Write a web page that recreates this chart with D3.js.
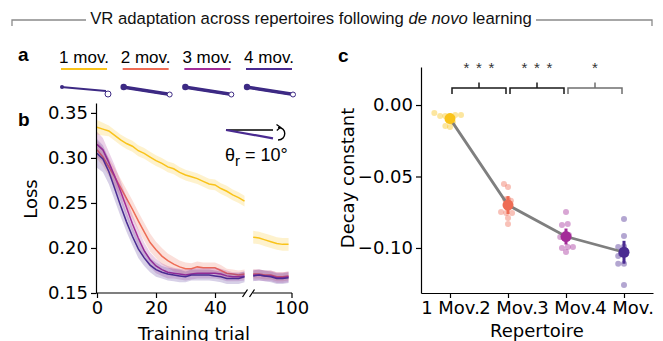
<!DOCTYPE html>
<html>
<head>
<meta charset="utf-8">
<script src="https://cdn.jsdelivr.net/npm/d3@7"></script>
<style>
  body { margin: 0; background: #fff; }
  svg { display: block; }
</style>
</head>
<body>
<div id="chart"></div>
<script>
// ---- data ----
const seriesNames = ['1 mov.', '2 mov.', '3 mov.', '4 mov.'];
const seriesColors = ['#f9c31a', '#ee6c55', '#a32c98', '#4a2b91'];

// training trials shown before / after the axis break
const trialsA = [0, 2, 4, 6, 8, 10, 12, 14, 16, 18, 20, 22, 24, 26, 28, 30, 32, 34, 36, 38, 40, 42, 44, 46, 48, 50];
const trialsB = [87, 89, 91, 93, 95, 97, 99];

const loss1A = [0.334, 0.332, 0.330, 0.325, 0.320, 0.316, 0.313, 0.308, 0.305, 0.301, 0.297, 0.294, 0.290,
                0.288, 0.284, 0.281, 0.279, 0.277, 0.274, 0.271, 0.270, 0.266, 0.263, 0.259, 0.256, 0.252];
const loss2A = [0.309, 0.301, 0.290, 0.279, 0.267, 0.255, 0.243, 0.230, 0.218, 0.206, 0.198, 0.191, 0.186,
                0.182, 0.179, 0.177, 0.177, 0.179, 0.178, 0.178, 0.178, 0.175, 0.172, 0.171, 0.170, 0.171];
const loss3A = [0.315, 0.309, 0.295, 0.280, 0.263, 0.245, 0.227, 0.211, 0.197, 0.187, 0.180, 0.176, 0.173,
                0.172, 0.171, 0.170, 0.171, 0.172, 0.172, 0.172, 0.172, 0.171, 0.169, 0.168, 0.168, 0.169];
const loss4A = [0.305, 0.299, 0.285, 0.266, 0.247, 0.229, 0.213, 0.199, 0.189, 0.181, 0.176, 0.173, 0.171,
                0.170, 0.169, 0.168, 0.170, 0.170, 0.170, 0.170, 0.169, 0.168, 0.166, 0.166, 0.166, 0.168];

const sem1A = [0.008, 0.007, 0.006, 0.006, 0.006, 0.006, 0.006, 0.006, 0.006, 0.006, 0.006, 0.006, 0.006,
               0.006, 0.006, 0.006, 0.006, 0.006, 0.006, 0.006, 0.006, 0.006, 0.006, 0.006, 0.006, 0.006];
const sem2A = [0.010, 0.010, 0.010, 0.010, 0.010, 0.010, 0.010, 0.010, 0.010, 0.010, 0.009, 0.009, 0.008,
               0.008, 0.007, 0.007, 0.006, 0.006, 0.006, 0.006, 0.006, 0.006, 0.005, 0.005, 0.005, 0.005];
const sem3A = [0.014, 0.013, 0.012, 0.012, 0.011, 0.011, 0.010, 0.010, 0.009, 0.008, 0.008, 0.007, 0.007,
               0.006, 0.006, 0.006, 0.006, 0.006, 0.006, 0.006, 0.006, 0.006, 0.006, 0.005, 0.005, 0.005];
const sem4A = [0.016, 0.015, 0.014, 0.013, 0.012, 0.011, 0.010, 0.010, 0.009, 0.008, 0.008, 0.007, 0.007,
               0.007, 0.007, 0.006, 0.006, 0.006, 0.006, 0.006, 0.006, 0.006, 0.006, 0.006, 0.006, 0.006];

const loss1B = [0.212, 0.211, 0.209, 0.207, 0.205, 0.204, 0.204];
const loss2B = [0.171, 0.171, 0.170, 0.170, 0.168, 0.168, 0.169];
const loss3B = [0.170, 0.170, 0.169, 0.169, 0.167, 0.167, 0.168];
const loss4B = [0.169, 0.170, 0.169, 0.168, 0.166, 0.166, 0.167];
const sem1B = [0.007, 0.007, 0.007, 0.007, 0.007, 0.007, 0.007];
const sem2B = [0.005, 0.005, 0.005, 0.005, 0.005, 0.005, 0.005];
const sem3B = [0.006, 0.006, 0.006, 0.006, 0.006, 0.006, 0.006];
const sem4B = [0.006, 0.006, 0.006, 0.006, 0.006, 0.006, 0.006];

const lossTicksY = [0.15, 0.20, 0.25, 0.30, 0.35];
const trialTicksA = [0, 20, 40];
const trialTicksB = [100];

// panel c: decay constants
const repertoires = ['1 Mov.', '2 Mov.', '3 Mov.', '4 Mov.'];
const decayMean = [-0.0095, -0.070, -0.092, -0.103];
const decayErr = [0.0015, 0.0063, 0.0056, 0.008];
const decayPoints = [
  [-0.0056, -0.0077, -0.0077, -0.0077, -0.0070, -0.0070, -0.0147, -0.0154, -0.0100, -0.0120],
  [-0.0552, -0.0573, -0.0748, -0.0755, -0.0755, -0.0790, -0.0832, -0.0660, -0.0670, -0.0660],
  [-0.0748, -0.0839, -0.0832, -0.0923, -0.1000, -0.0993, -0.1028, -0.0993, -0.0920, -0.0910],
  [-0.0797, -0.0916, -0.0993, -0.1056, -0.1110, -0.1110, -0.1259, -0.1020, -0.0990, -0.1040]
];
// horizontal jitter of each point, as a fraction of the category step
const decayJitter = [
  [-0.27, -0.17, -0.08, 0.0, 0.09, 0.19, -0.08, 0.0, 0.0, 0.05],
  [-0.07, 0.0, -0.12, -0.03, 0.07, 0.0, 0.0, -0.05, 0.05, 0.0],
  [0.0, -0.07, 0.03, -0.10, -0.07, 0.03, 0.0, 0.12, -0.03, 0.05],
  [0.0, 0.0, -0.10, -0.10, -0.10, 0.0, 0.0, 0.0, 0.0, -0.05]
];
const decayTicksY = [0.0, -0.05, -0.10];
const sigPairs = [[0, 1], [1, 2], [2, 3]];
const sigLabels = [3, 3, 1]; // number of stars

// ---- drawing ----
const W = 663, H = 341;
const sans = 'Liberation Sans, Arial, sans-serif';
const mpl = 'DejaVu Sans, sans-serif';

const svg = d3.select('#chart').append('svg')
  .attr('width', W).attr('height', H);

// title with bracket
svg.append('path')
  .attr('d', 'M12,26V20H86 M536,20H652V26')
  .attr('fill', 'none').attr('stroke', '#8a8a8a').attr('stroke-width', 1.3);
const title = svg.append('text')
  .attr('x', 311).attr('y', 24)
  .attr('text-anchor', 'middle')
  .style('font-family', sans).style('font-size', '16.7px').attr('fill', '#111');
title.append('tspan').text('VR adaptation across repertoires following ');
title.append('tspan').style('font-style', 'italic').text('de novo');
title.append('tspan').text(' learning');

// panel letters
[['a', 18, 61], ['b', 18, 126], ['c', 338, 62]].forEach(([t, x, y]) => {
  svg.append('text').attr('x', x).attr('y', y).text(t)
    .style('font-family', sans).style('font-weight', 'bold').style('font-size', '19px');
});

// ---- panel a: legend + arm sketches ----
const legendX = d3.scalePoint().domain(seriesNames).range([84, 269]);
const leg = svg.append('g');
seriesNames.forEach((name, i) => {
  const cx = legendX(name);
  leg.append('text').attr('x', cx).attr('y', 63).attr('text-anchor', 'middle')
    .style('font-family', sans).style('font-size', '17px').text(name);
  leg.append('line').attr('x1', cx - 23).attr('x2', cx + 23).attr('y1', 69).attr('y2', 69)
    .attr('stroke', seriesColors[i]).attr('stroke-width', 2);
  // reach trajectories
  const armColor = '#3d2a84';
  const x0 = cx - 23, y0 = 87;
  const strokes = i === 0 ? [[0, 0]] : [[0, -0.8], [0, 0], [0, 0.8], [1, 0.4]];
  strokes.forEach(([dx, dy]) => {
    leg.append('line').attr('x1', x0 + dx).attr('y1', y0 + dy)
      .attr('x2', x0 + 45).attr('y2', y0 + (i === 0 ? 4 : 7) + dy)
      .attr('stroke', armColor).attr('stroke-width', i === 0 ? 2 : 1.8);
  });
  leg.append('circle').attr('cx', x0 + 1).attr('cy', y0)
    .attr('r', i === 0 ? 2 : 3.2).attr('fill', armColor);
  leg.append('circle').attr('cx', x0 + 47).attr('cy', y0 + (i === 0 ? 7 : 7.5))
    .attr('r', i === 0 ? 3 : 2.5).attr('fill', '#fff').attr('stroke', armColor).attr('stroke-width', 1);
});

// ---- panel b: loss curves with a broken x axis ----
const yB = d3.scaleLinear().domain([0.15, 0.361]).range([293, 103]);
const xA = d3.scaleLinear().domain([0, 50]).range([97, 244.5]);
const xBr = d3.scaleLinear().domain([87, 100]).range([253.2, 291.5]);

const lossA = [loss1A, loss2A, loss3A, loss4A];
const lossB = [loss1B, loss2B, loss3B, loss4B];
const semA = [sem1A, sem2A, sem3A, sem4A];
const semB = [sem1B, sem2B, sem3B, sem4B];

const gB = svg.append('g');
function drawSeg(trials, mean, sem, x, color) {
  const pts = trials.map((t, i) => ({ t, m: mean[i], s: sem[i] }));
  gB.append('path').datum(pts)
    .attr('d', d3.area().x(d => x(d.t)).y0(d => yB(d.m - d.s)).y1(d => yB(d.m + d.s)))
    .attr('fill', color).attr('fill-opacity', 0.22);
  gB.append('path').datum(pts)
    .attr('d', d3.line().x(d => x(d.t)).y(d => yB(d.m)))
    .attr('fill', 'none').attr('stroke', color).attr('stroke-width', 1.5);
}
seriesNames.forEach((n, i) => {
  drawSeg(trialsA, lossA[i], semA[i], xA, seriesColors[i]);
  drawSeg(trialsB, lossB[i], semB[i], xBr, seriesColors[i]);
});

// y axis
const yAxisB = gB.append('g').attr('transform', 'translate(96,0)')
  .call(d3.axisLeft(yB).tickValues(lossTicksY).tickFormat(d3.format('.2f'))
    .tickSize(5).tickPadding(3).tickSizeOuter(0));
// x axes (two pieces)
const xAxisA = gB.append('g').attr('transform', 'translate(0,293)')
  .call(d3.axisBottom(xA).tickValues(trialTicksA).tickSize(5).tickPadding(3).tickSizeOuter(0));
const xAxisB = gB.append('g').attr('transform', 'translate(0,293)')
  .call(d3.axisBottom(xBr).tickValues(trialTicksB).tickSize(5).tickPadding(3).tickSizeOuter(0));
xAxisA.select('.domain').attr('d', 'M96,0H245');
xAxisB.select('.domain').attr('d', 'M253,0H292');
// break marks
gB.append('path').attr('d', 'M242.5,297L247.5,289.5 M249.5,297L254.5,289.5')
  .attr('stroke', '#000').attr('stroke-width', 1.3);

[yAxisB, xAxisA, xAxisB].forEach(a => {
  a.selectAll('text').style('font-family', mpl).style('font-size', '18px').attr('fill', '#000');
  a.selectAll('line, path').attr('stroke', '#000').attr('stroke-width', 1.2);
});

svg.append('text').attr('transform', 'translate(37,199) rotate(-90)')
  .attr('text-anchor', 'middle').style('font-family', mpl).style('font-size', '18px').text('Loss');
svg.append('text').attr('x', 194).attr('y', 340).attr('text-anchor', 'middle')
  .style('font-family', mpl).style('font-size', '18px').text('Training trial');

// rotation sketch
const rot = svg.append('g');
rot.append('line').attr('x1', 226).attr('y1', 130).attr('x2', 273).attr('y2', 130)
  .attr('stroke', '#000').attr('stroke-width', 1.4);
rot.append('line').attr('x1', 226).attr('y1', 130).attr('x2', 273).attr('y2', 138.3)
  .attr('stroke', '#4a2b91').attr('stroke-width', 2.2);
rot.append('path').attr('d', 'M278,127.5 C287,127 287,140 278,140')
  .attr('fill', 'none').attr('stroke', '#000').attr('stroke-width', 1.4);
rot.append('path').attr('d', 'M276.5,124.5 L280.5,127.3 L276.8,130.5')
  .attr('fill', 'none').attr('stroke', '#000').attr('stroke-width', 1.3);
const th = rot.append('text').attr('x', 225).attr('y', 161)
  .style('font-family', sans).style('font-size', '18px');
th.append('tspan').text('θ');
th.append('tspan').attr('dy', 5).style('font-size', '15px').text('r');
th.append('tspan').attr('dy', -5).text(' = 10°');

// ---- panel c: decay constants ----
const xC = d3.scalePoint().domain(repertoires).range([421, 653]).padding(0.5);
const yC = d3.scaleLinear().domain([-0.1315, 0.0266]).range([293, 67]);
const step = xC.step();
const gC = svg.append('g');

decayPoints.forEach((vals, i) => {
  gC.selectAll(null).data(vals).enter().append('circle')
    .attr('cx', (d, j) => xC(repertoires[i]) + decayJitter[i][j] * step)
    .attr('cy', d => yC(d))
    .attr('r', 3)
    .attr('fill', seriesColors[i]).attr('fill-opacity', 0.42);
});

gC.append('path').datum(decayMean)
  .attr('d', d3.line().x((d, i) => xC(repertoires[i])).y(d => yC(d)))
  .attr('fill', 'none').attr('stroke', '#7f7f7f').attr('stroke-width', 2.8);

decayMean.forEach((m, i) => {
  gC.append('line').attr('x1', xC(repertoires[i])).attr('x2', xC(repertoires[i]))
    .attr('y1', yC(m - decayErr[i])).attr('y2', yC(m + decayErr[i]))
    .attr('stroke', seriesColors[i]).attr('stroke-width', 3);
  gC.append('circle').attr('cx', xC(repertoires[i])).attr('cy', yC(m))
    .attr('r', 5.5).attr('fill', seriesColors[i]);
});

const yAxisC = gC.append('g').attr('transform', 'translate(421,0)')
  .call(d3.axisLeft(yC).tickValues(decayTicksY).tickFormat(d3.format('.2f'))
    .tickSize(5).tickPadding(3).tickSizeOuter(0));
const xAxisC = gC.append('g').attr('transform', 'translate(0,293)')
  .call(d3.axisBottom(xC).tickSize(5).tickPadding(3).tickSizeOuter(0));
[yAxisC, xAxisC].forEach(a => {
  a.selectAll('text').style('font-family', mpl).style('font-size', '18px').attr('fill', '#000');
  a.selectAll('line, path').attr('stroke', '#000').attr('stroke-width', 1.2);
});

svg.append('text').attr('transform', 'translate(354,178) rotate(-90)')
  .attr('text-anchor', 'middle').style('font-family', mpl).style('font-size', '18px').text('Decay constant');
svg.append('text').attr('x', 537).attr('y', 337).attr('text-anchor', 'middle')
  .style('font-family', mpl).style('font-size', '18px').text('Repertoire');

// significance brackets
sigPairs.forEach(([a, b], k) => {
  const x1 = xC(repertoires[a]) + 2, x2 = xC(repertoires[b]) - 2, xm = (x1 + x2) / 2;
  const col = k === 2 ? '#6f6f6f' : '#1a1a1a';
  gC.append('path')
    .attr('d', `M${x1},94V88H${x2}V94 M${xm},88V82.5`)
    .attr('fill', 'none').attr('stroke', col).attr('stroke-width', 1.5);
  d3.range(sigLabels[k]).forEach(s => {
    gC.append('text')
      .attr('x', xm + (s - (sigLabels[k] - 1) / 2) * 12.5).attr('y', 73)
      .attr('text-anchor', 'middle')
      .style('font-family', sans).style('font-size', '15px').attr('fill', '#333').text('*');
  });
});
</script>
</body>
</html>
